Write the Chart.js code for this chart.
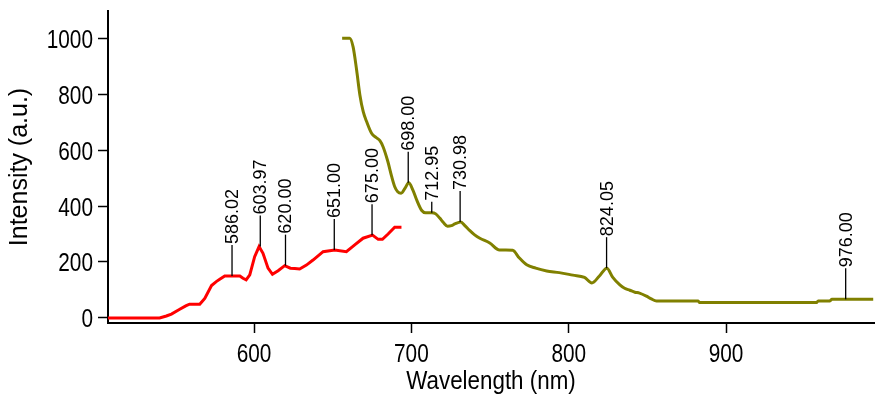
<!DOCTYPE html>
<html>
<head>
<meta charset="utf-8">
<script src="https://cdn.jsdelivr.net/npm/chart.js@4.4.1/dist/chart.umd.min.js"></script>
<style>
  body { margin: 0; background: #fff; }
  #wrap { width: 875px; height: 397px; }
</style>
</head>
<body>
<div id="wrap"><canvas id="spectrum" width="875" height="397"></canvas></div>
<script>
// ---- data ----
// red spectrum (short wavelength part)
const redWavelengths = [507, 540, 544.3, 547.5, 552.8, 556.6, 559, 565.5, 568.7, 573, 576, 578.2, 581.4,
  591, 593, 595, 597.3, 600.4, 603.2, 605.7, 608.9, 611.7, 615.3, 619.5, 623.1, 625.9, 629,
  633.3, 637.5, 643.9, 651.3, 658.7, 664, 669.3, 675.3, 678.9, 681.6, 685.2, 689.4, 693.7];
const redIntensity = [0, 0, 7, 14, 31, 43, 49, 49, 70, 116, 130, 138, 150,
  150, 142, 136, 154, 219, 255, 231, 178, 156, 169, 187, 178, 177, 175,
  189, 207, 237, 243, 237, 261, 285, 296, 281, 281, 300, 324, 324];

// olive spectrum (long wavelength part)
const oliveWavelengths = [656, 660.8, 663, 665.2, 667.3, 669.4, 671.6, 674.7, 677.5, 680, 682,
  685, 687.5, 689.5, 691.3, 693.5, 696, 698.3, 700.9, 703.5, 706.6, 709, 713, 715.5, 718, 720.5,
  723, 725.5, 727.6, 731.4, 734, 737, 740, 743.5, 749.8, 756, 760, 764.4, 768.5,
  773.3, 779, 786, 794, 802.6, 810, 814.7, 819.5, 824.2, 828, 832.5, 835.5, 838.8, 842, 845, 849.4,
  852.5, 855.8, 882.3, 883, 957.5, 958.5, 966, 967.3, 993.5];
const oliveIntensity = [1000, 1000, 968, 886, 796, 737, 701, 660, 645, 634, 612,
  560, 505, 468, 451, 446, 464, 483, 458, 420, 384, 376, 376, 372, 357, 340,
  328, 330, 336, 343, 330, 313, 298, 285, 268, 243, 243, 242, 215,
  190, 178, 168, 162, 153, 145, 125, 150, 178, 145, 118, 106, 99, 92, 89, 78,
  68, 61, 61, 55, 55, 61, 61, 67, 67];

// labelled peaks
const peakWavelengths = [586.02, 603.97, 620.00, 651.00, 675.00, 698.00, 712.95, 730.98, 824.05, 976.00];
const peakIntensity = [150, 255, 187, 243, 296, 483, 376, 343, 178, 67];

const xTicks = [600, 700, 800, 900];
const yTicks = [0, 200, 400, 600, 800, 1000];

// ---- chart ----
const FONT = "'Liberation Sans', Arial, sans-serif";

function toPoints(xs, ys) {
    return xs.map((x, i) => ({ x: x, y: ys[i] }));
}

// the original uses a squeezed Arial for the axis text, so draw it by hand
function squeezedText(ctx, text, x, y, align, squeeze) {
    ctx.save();
    ctx.translate(x, y);
    ctx.scale(squeeze, 1);
    ctx.textAlign = align;
    ctx.fillText(text, 0, 0);
    ctx.restore();
}

const axisText = {
    id: 'axisText',
    afterDraw(chart) {
        const ctx = chart.ctx;
        const xs = chart.scales.x;
        const ys = chart.scales.y;
        const area = chart.chartArea;
        ctx.save();
        ctx.fillStyle = '#000';
        ctx.textBaseline = 'alphabetic';
        ctx.font = '26px ' + FONT;
        xTicks.forEach(v => {
            squeezedText(ctx, String(v), xs.getPixelForValue(v), 362, 'center', 0.8);
        });
        yTicks.forEach(v => {
            squeezedText(ctx, String(v), area.left - 15, ys.getPixelForValue(v) + 9.5, 'right', 0.8);
        });
        squeezedText(ctx, 'Wavelength (nm)', (area.left + area.right) / 2, 388.5, 'center', 0.86);
        ctx.restore();
    }
};

// draws the little stick + rotated wavelength over each peak
const peakLabels = {
    id: 'peakLabels',
    afterDatasetsDraw(chart) {
        const ctx = chart.ctx;
        const xs = chart.scales.x;
        const ys = chart.scales.y;
        ctx.save();
        ctx.strokeStyle = '#000';
        ctx.fillStyle = '#000';
        ctx.lineWidth = 1.3;
        ctx.font = '18px ' + FONT;
        peakWavelengths.forEach((w, i) => {
            const px = xs.getPixelForValue(w);
            const py = ys.getPixelForValue(peakIntensity[i]);
            const stick = (w === 712.95) ? 11 : 31; // 712.95 sits lower in the original
            ctx.beginPath();
            ctx.moveTo(px, py);
            ctx.lineTo(px, py - stick);
            ctx.stroke();
            ctx.save();
            ctx.translate(px, py - stick - 1);
            ctx.rotate(-Math.PI / 2);
            ctx.textAlign = 'left';
            ctx.textBaseline = 'middle';
            ctx.fillText(w.toFixed(2), 0, 1);
            ctx.restore();
        });
        ctx.restore();
    }
};

new Chart(document.getElementById('spectrum'), {
    type: 'line',
    data: {
        datasets: [
            {
                data: toPoints(redWavelengths, redIntensity),
                borderColor: '#ff0000',
                borderWidth: 3,
                pointRadius: 0,
                tension: 0,
                fill: false
            },
            {
                data: toPoints(oliveWavelengths, oliveIntensity),
                borderColor: '#808000',
                borderWidth: 3,
                pointRadius: 0,
                cubicInterpolationMode: 'monotone',
                fill: false
            }
        ]
    },
    options: {
        responsive: false,
        animation: false,
        events: [],
        layout: { padding: { top: 11, right: 1, left: 0, bottom: 0 } },
        plugins: { legend: { display: false }, tooltip: { enabled: false } },
        scales: {
            x: {
                type: 'linear',
                min: 507.2,
                max: 994,
                afterFit: (s) => { s.height = 74; },
                afterBuildTicks: (s) => { s.ticks = xTicks.map(v => ({ value: v })); },
                grid: { display: true, drawOnChartArea: false, drawTicks: true, tickLength: 10, tickWidth: 1.5, tickColor: '#000' },
                border: { display: true, color: '#000', width: 2 },
                ticks: { display: false }
            },
            y: {
                type: 'linear',
                min: -18,
                max: 1097,
                afterFit: (s) => { s.width = 108; },
                afterBuildTicks: (s) => { s.ticks = yTicks.map(v => ({ value: v })); },
                grid: { display: true, drawOnChartArea: false, drawTicks: true, tickLength: 10, tickWidth: 1.5, tickColor: '#000' },
                border: { display: true, color: '#000', width: 2 },
                ticks: { display: false },
                title: { display: true, text: 'Intensity (a.u.)', color: '#000', font: { family: FONT, size: 25 }, padding: 5 }
            }
        }
    },
    plugins: [peakLabels, axisText]
});
</script>
</body>
</html>
